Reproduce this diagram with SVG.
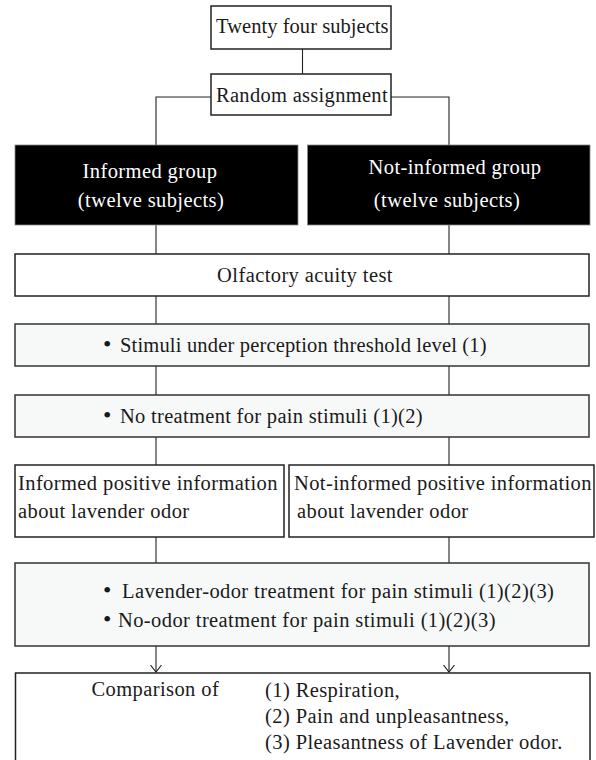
<svg xmlns="http://www.w3.org/2000/svg" width="596" height="760" viewBox="0 0 596 760">
<style>
text{font-family:'Liberation Serif','DejaVu Serif',serif;font-size:20.5px;letter-spacing:0.4px;fill:#1a1a1a}
.w{fill:#ffffff}
.c{text-anchor:middle}
.box{fill:#ffffff;stroke:#222;stroke-width:1.5}
.lt{fill:#f7f9f9;stroke:#333;stroke-width:1.5}
.blk{fill:#000;stroke:#888;stroke-width:0.8}
.ln{fill:none;stroke:#222;stroke-width:1.1}
.bul{font-size:24px}
</style>
<defs>
<marker id="arr" viewBox="0 0 8 12" refX="7.5" refY="6" markerWidth="8" markerHeight="12" markerUnits="userSpaceOnUse" orient="auto">
<path d="M0.5,0.5 L7.5,6 L0.5,11.5" fill="none" stroke="#222" stroke-width="1.1"/>
</marker>
</defs>
<g id="connectors">
<line class="ln" x1="302.5" y1="49" x2="302.5" y2="74"/>
<polyline class="ln" points="211,97 156,97 156,145"/>
<polyline class="ln" points="391,97 449,97 449,145"/>
<line class="ln" x1="156" y1="225" x2="156" y2="254"/>
<line class="ln" x1="449" y1="225" x2="449" y2="254"/>
<line class="ln" x1="156" y1="296" x2="156" y2="324"/>
<line class="ln" x1="449" y1="296" x2="449" y2="324"/>
<line class="ln" x1="156" y1="366" x2="156" y2="395"/>
<line class="ln" x1="449" y1="366" x2="449" y2="395"/>
<line class="ln" x1="156" y1="437" x2="156" y2="465"/>
<line class="ln" x1="449" y1="437" x2="449" y2="465"/>
<line class="ln" x1="156" y1="537" x2="156" y2="563"/>
<line class="ln" x1="449" y1="537" x2="449" y2="563"/>
<line class="ln" x1="156" y1="646" x2="156" y2="672" marker-end="url(#arr)"/>
<line class="ln" x1="449" y1="646" x2="449" y2="672" marker-end="url(#arr)"/>
</g>
<g id="n-subjects">
<rect class="box" x="211" y="6" width="180" height="43"/>
<text class="c" x="302.5" y="33" textLength="173">Twenty four subjects</text>
</g>
<g id="n-random">
<rect class="box" x="211" y="74" width="180" height="41"/>
<text class="c" x="302" y="101.5" textLength="172">Random assignment</text>
</g>
<g id="n-informed">
<rect class="blk" x="15" y="145" width="283" height="80"/>
<text class="c w" x="150" y="178">Informed group</text>
<text class="c w" x="151" y="206.5">(twelve subjects)</text>
</g>
<g id="n-notinformed">
<rect class="blk" x="307.5" y="145" width="282.5" height="80"/>
<text class="c w" x="455" y="174">Not-informed group</text>
<text class="c w" x="447" y="206.5">(twelve subjects)</text>
</g>
<g id="n-olfactory">
<rect class="box" x="15" y="254" width="574" height="42"/>
<text class="c" x="305" y="281.5">Olfactory acuity test</text>
</g>
<g id="n-stimuli">
<rect class="lt" x="15" y="324" width="574" height="42"/>
<text x="103" y="352"><tspan class="bul">•</tspan><tspan x="120" textLength="367">Stimuli under perception threshold level (1)</tspan></text>
</g>
<g id="n-notreatment">
<rect class="lt" x="15" y="395" width="574" height="42"/>
<text x="103" y="423"><tspan class="bul">•</tspan><tspan x="120" textLength="303">No treatment for pain stimuli (1)(2)</tspan></text>
</g>
<g id="n-info-pos">
<rect class="box" x="15" y="465" width="269" height="72"/>
<text x="18" y="490">Informed positive information</text>
<text x="18" y="518">about lavender odor</text>
</g>
<g id="n-notinfo-pos">
<rect class="box" x="289" y="465" width="305" height="72"/>
<text x="294" y="490">Not-informed positive information</text>
<text x="297" y="518">about lavender odor</text>
</g>
<g id="n-lavender">
<rect class="lt" x="15" y="563" width="574" height="83"/>
<text x="103" y="598"><tspan class="bul">•</tspan><tspan x="122">Lavender-odor treatment for pain stimuli (1)(2)(3)</tspan></text>
<text x="103" y="627"><tspan class="bul">•</tspan><tspan x="118">No-odor treatment for pain stimuli (1)(2)(3)</tspan></text>
</g>
<g id="n-comparison">
<rect class="box" x="15.5" y="673" width="574.5" height="100"/>
<text x="91.5" y="696">Comparison of</text>
<text x="265" y="697">(1) Respiration,</text>
<text x="265" y="723">(2) Pain and unpleasantness,</text>
<text x="265" y="749">(3) Pleasantness of Lavender odor.</text>
</g>
</svg>
